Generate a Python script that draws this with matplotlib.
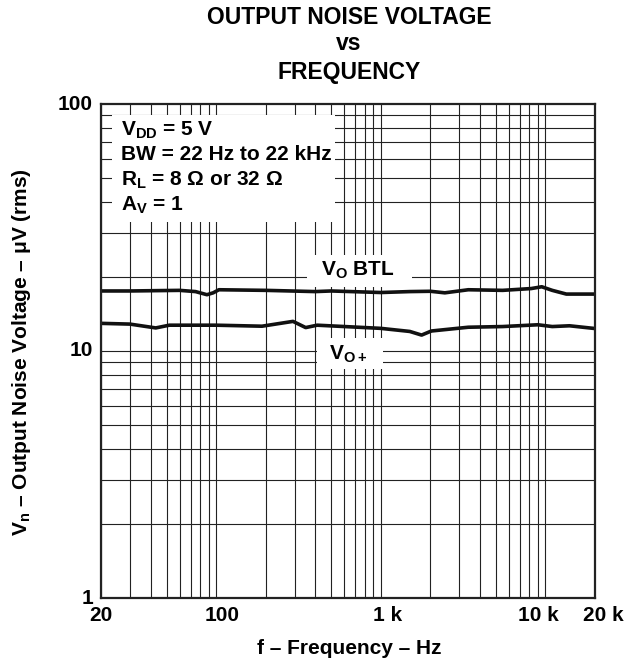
import matplotlib
matplotlib.use("Agg")
import matplotlib.pyplot as plt
from matplotlib.ticker import NullFormatter, LogLocator, FixedLocator
from matplotlib.patches import Rectangle
import matplotlib.transforms as mtransforms

plt.rcParams['font.family'] = ['Liberation Sans', 'DejaVu Sans']
plt.rcParams['font.weight'] = 'bold'
plt.rcParams['mathtext.fontset'] = 'custom'
plt.rcParams['mathtext.rm'] = 'Liberation Sans:bold'
plt.rcParams['mathtext.it'] = 'Liberation Sans:bold'
plt.rcParams['mathtext.bf'] = 'Liberation Sans:bold'

# ---- data ----
btl_freq = [20, 30, 60, 75, 88, 96, 104, 200, 400, 500, 1000, 1500, 2000, 2450,
            3400, 5500, 8200, 9500, 11000, 13400, 20000]
btl_vn = [17.5, 17.5, 17.6, 17.4, 16.9, 17.2, 17.7, 17.6, 17.4, 17.5, 17.25, 17.4,
          17.45, 17.2, 17.7, 17.6, 17.9, 18.2, 17.6, 17.0, 17.0]

vop_freq = [20, 30, 43, 52, 100, 190, 293, 350, 411, 1000, 1500, 1770, 2030, 3400,
            5500, 9000, 11000, 14000, 20000]
vop_vn = [12.94, 12.85, 12.4, 12.72, 12.72, 12.6, 13.18, 12.44, 12.72, 12.35, 12.0,
          11.6, 12.05, 12.48, 12.56, 12.77, 12.56, 12.65, 12.33]

x_ticks = [20, 100, 1000, 10000, 20000]
x_tick_labels = ['20', '100', '1 k', '10 k', '20 k']
y_ticks = [1, 10, 100]
y_tick_labels = ['1', '10', '100']

title_lines = ['OUTPUT NOISE VOLTAGE', 'vs', 'FREQUENCY']
cond_lines = ['V$_{DD}$ = 5 V', 'BW = 22 Hz to 22 kHz',
              'R$_{L}$ = 8 \u03a9 or 32 \u03a9', 'A$_{V}$ = 1']

W, H = 637, 664
fig = plt.figure(figsize=(W / 100, H / 100), dpi=100)
L, R, T, B = 101, 595, 104, 598
ax = fig.add_axes([L / W, 1 - B / H, (R - L) / W, (B - T) / H])

FS = 15

def fx(x):
    return x / W

def fy(y):
    return 1 - y / H

ax.set_xscale('log')
ax.set_yscale('log')
ax.set_xlim(20, 20000)
ax.set_ylim(1, 100)

ax.xaxis.set_major_locator(FixedLocator([100, 1000, 10000]))
ax.xaxis.set_minor_locator(LogLocator(base=10, subs=range(2, 10)))
ax.yaxis.set_major_locator(FixedLocator([10]))
ax.yaxis.set_minor_locator(LogLocator(base=10, subs=range(2, 10)))
ax.xaxis.set_major_formatter(NullFormatter())
ax.xaxis.set_minor_formatter(NullFormatter())
ax.yaxis.set_major_formatter(NullFormatter())
ax.yaxis.set_minor_formatter(NullFormatter())
ax.tick_params(which='both', length=0)
ax.grid(which='both', color='#222222', lw=0.8)
ax.set_axisbelow(True)
for s in ax.spines.values():
    s.set_linewidth(1.6)
    s.set_color('#222222')
    s.set_zorder(6)

ax.plot(btl_freq, btl_vn, color='#111111', lw=2.6, zorder=4)
ax.plot(vop_freq, vop_vn, color='#111111', lw=2.6, zorder=4)

# white boxes covering grid
def box_px(x0, y0, x1, y1):
    fig.patches.append(Rectangle((fx(x0), fy(y1)), fx(x1) - fx(x0), fy(y0) - fy(y1),
                                 transform=fig.transFigure, facecolor='white',
                                 edgecolor='none', zorder=1.5))

box_px(112, 115, 335, 222)
box_px(307, 255, 412, 287)
box_px(317, 338, 383, 369)

# conditions text
cond_y = [130, 155, 180, 205]
for t, y in zip(cond_lines, cond_y):
    fig.text(fx(121), fy(y), t, fontsize=FS, fontweight='bold', va='center', ha='left', zorder=7)

fig.text(fx(358), fy(270), 'V$_{O}$ BTL', fontsize=FS, fontweight='bold', ha='center', va='center', zorder=7)
fig.text(fx(348), fy(354), 'V$_{O+}$', fontsize=FS, fontweight='bold', ha='center', va='center', zorder=7)

# title
for t, y in zip(title_lines, [18, 44, 73]):
    fig.text(fx(349), fy(y), t, fontsize=16.5, fontweight='bold', ha='center', va='center')

# tick labels
x_offsets = [0, 6, 7, -7, 8]
for xv, lab, off in zip(x_ticks, x_tick_labels, x_offsets):
    tr = ax.get_xaxis_transform() + mtransforms.ScaledTranslation(off / 100, 0, fig.dpi_scale_trans)
    ax.text(xv, -0.035, lab, transform=tr, ha='center', va='center', fontsize=FS,
            fontweight='bold', clip_on=False)
for yv, lab in zip(y_ticks, y_tick_labels):
    ax.text(-0.016, yv, lab, transform=ax.get_yaxis_transform(), ha='right', va='center',
            fontsize=FS, fontweight='bold', clip_on=False)

fig.text(fx(349), fy(648), 'f \u2013 Frequency \u2013 Hz', fontsize=FS, fontweight='bold', ha='center', va='center')
fig.text(fx(22), fy(352), 'V$_{n}$ \u2013 Output Noise Voltage \u2013 \u03bcV (rms)', fontsize=FS,
         fontweight='bold', ha='center', va='center', rotation=90)

fig.savefig('out.png', dpi=100)
